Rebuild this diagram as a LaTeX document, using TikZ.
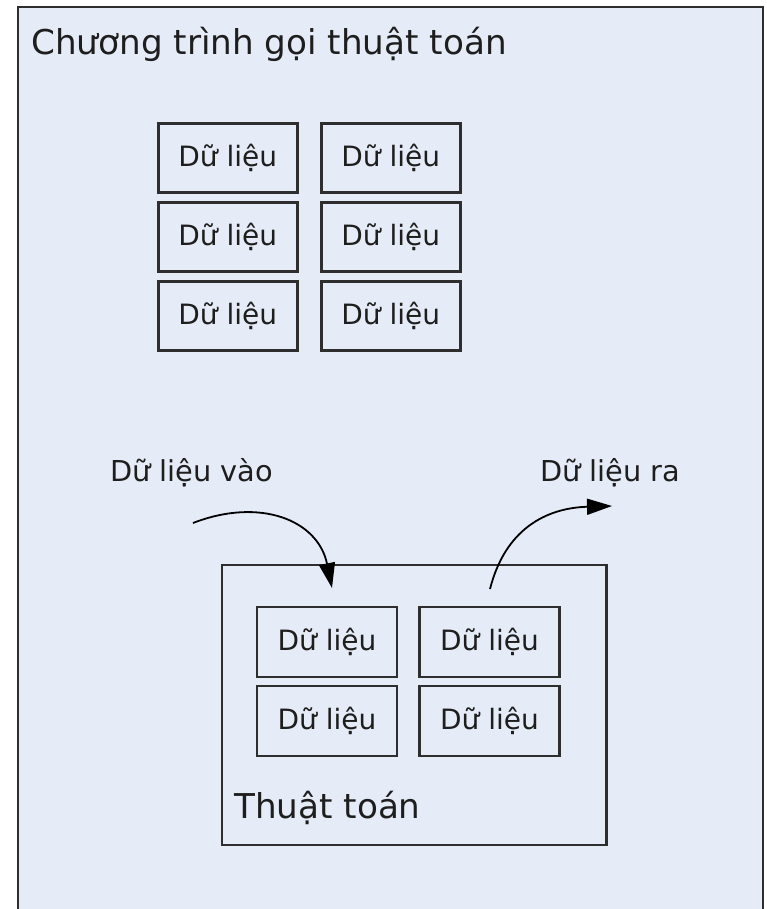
\documentclass[tikz,border=0pt]{standalone}
\usepackage{fontspec}
\setmainfont{DejaVu Sans}
\usetikzlibrary{arrows.meta}
\definecolor{bgblue}{HTML}{E6ECF7}
\definecolor{linegray}{HTML}{2E2E2E}
\definecolor{textgray}{HTML}{1E1E1E}
\tikzset{
  databox/.style={draw=linegray, line width=2.4pt, minimum width=139pt, minimum height=69pt, inner sep=0pt,
    font=\fontsize{28}{32}\selectfont, text=textgray},
  bigtext/.style={anchor=base west, inner sep=0pt, font=\fontsize{34.2}{40}\selectfont, text=textgray},
  smalltext/.style={anchor=base west, inner sep=0pt, font=\fontsize{28.8}{32}\selectfont, text=textgray},
  flow/.style={draw=black, line width=1.8pt, -{Triangle[length=25pt,width=16pt]}}
}
\begin{document}
\begin{tikzpicture}[x=1pt, y=-1pt]
\useasboundingbox (0,0) rectangle (767,909);
\fill[white] (0,0) rectangle (767,909);
% outer program area (open at the bottom)
\fill[bgblue] (18,7) rectangle (763,912);
\draw[linegray, line width=2.4pt] (18,912) -- (18,7) -- (763,7) -- (763,912);
\node[bigtext] (title) at (31,55) {Chương trình gọi thuật toán};

% upper data grid
\node[databox] (d11) at (227.8,158) {Dữ liệu};
\node[databox] (d12) at (390.8,158) {Dữ liệu};
\node[databox] (d21) at (227.8,237) {Dữ liệu};
\node[databox] (d22) at (390.8,237) {Dữ liệu};
\node[databox] (d31) at (227.8,316) {Dữ liệu};
\node[databox] (d32) at (390.8,316) {Dữ liệu};

% algorithm container
\node[draw=linegray, line width=2.4pt, minimum width=384.5pt, minimum height=280pt, inner sep=0pt] (alg) at (414.25,705) {};
\node[databox, minimum width=140pt, minimum height=70pt] (a11) at (327,642) {Dữ liệu};
\node[databox, minimum width=140pt, minimum height=70pt] (a12) at (489.5,642) {Dữ liệu};
\node[databox, minimum width=140pt, minimum height=70pt] (a21) at (327,721) {Dữ liệu};
\node[databox, minimum width=140pt, minimum height=70pt] (a22) at (489.5,721) {Dữ liệu};
\node[bigtext] (algname) at (234,818) {Thuật toán};

% input / output labels
\node[smalltext] (inlbl) at (110,481) {Dữ liệu vào};
\node[smalltext] (outlbl) at (540,481) {Dữ liệu ra};

% arrows
\coordinate (instart) at (193,523);
\coordinate (inend) at (332,588);
\coordinate (outstart) at (490,589);
\coordinate (outend) at (612,506);
\draw[flow] (instart) .. controls (260,497) and (318,520) .. (inend);
\draw[flow] (outstart) .. controls (505,530) and (545,508) .. (outend);
\end{tikzpicture}
\end{document}
